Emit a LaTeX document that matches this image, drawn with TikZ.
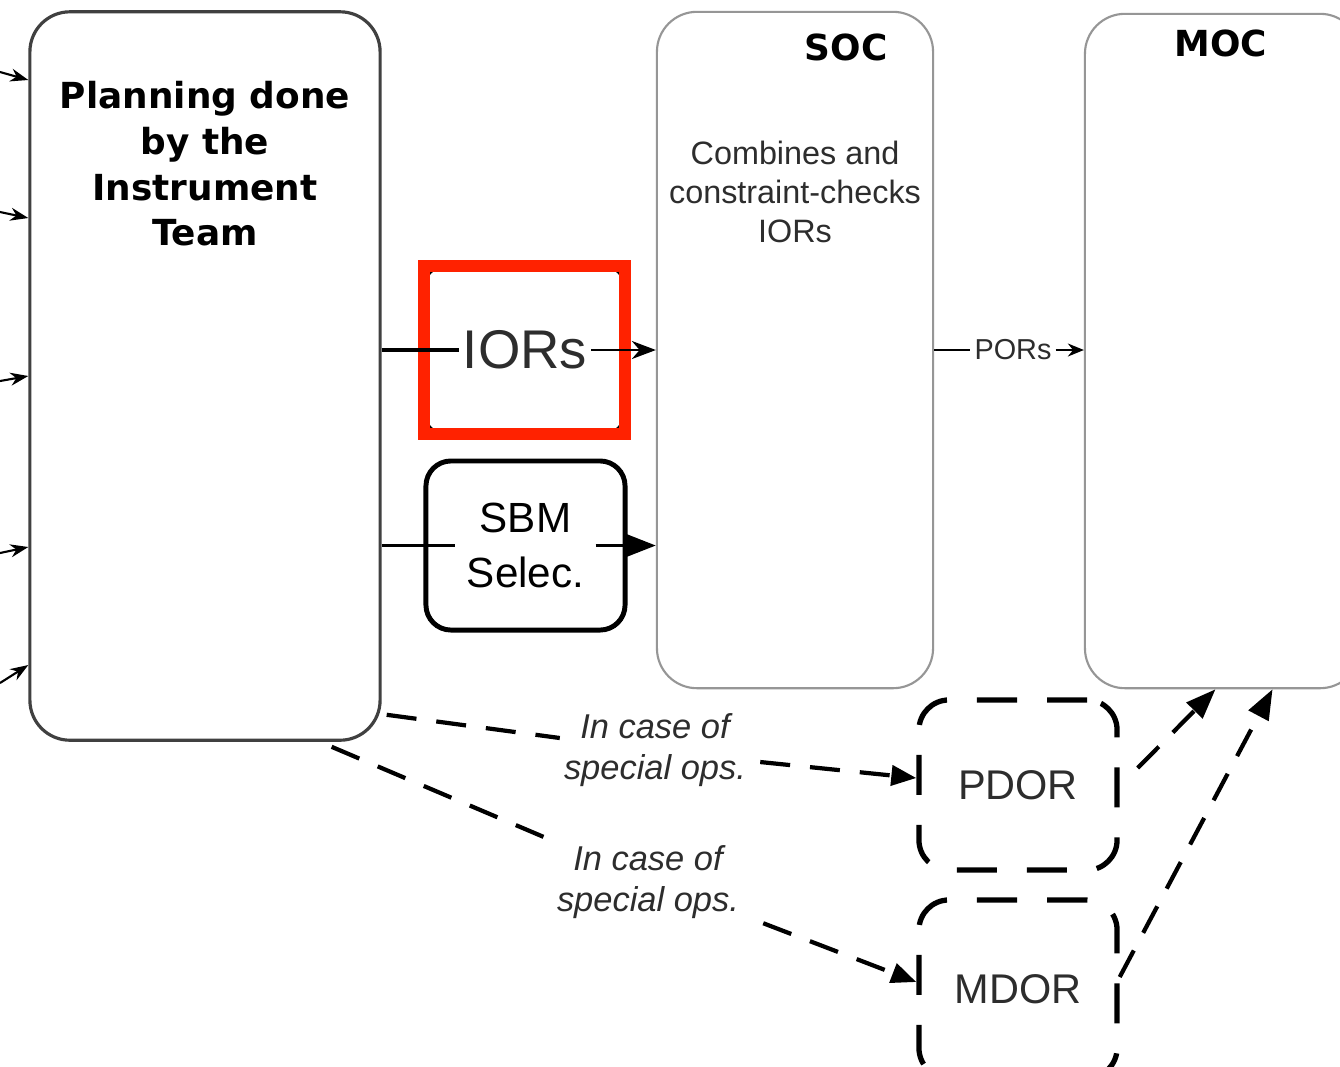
\documentclass[tikz,border=0pt]{standalone}
\usepackage{fontspec}
\setmainfont{Liberation Sans}
\newfontfamily\heavyfont{DejaVu Sans}
\usetikzlibrary{arrows.meta}
\definecolor{markred}{RGB}{255,34,0}
\definecolor{boxgray}{RGB}{150,150,150}
\definecolor{txtgray}{RGB}{45,45,45}

\begin{document}
\begin{tikzpicture}[x=0.01cm,y=-0.01cm,
    tallbox/.style={draw=boxgray,line width=0.6pt,rounded corners=0.4cm,inner sep=0pt},
    title/.style={font=\heavyfont\bfseries\fontsize{10.2}{13}\selectfont,align=center,inner sep=0pt},
    dline/.style={line width=1.2pt,dash pattern=on 0.3cm off 0.2cm},
    dbox/.style={draw,line width=1.5pt,dash pattern=on 0.4cm off 0.3cm,rounded corners=0.3cm,minimum width=1.98cm,font=\fontsize{11.8}{14}\selectfont,text=txtgray},
    special/.style={font=\itshape\fontsize{9.8}{11.9}\selectfont,text=txtgray,align=center,inner sep=1pt}]

\path[use as bounding box,fill=white] (0,0) rectangle (1340,1066);

\node[tallbox,draw=black!75,line width=0.9pt,minimum width=3.5cm,minimum height=7.28cm] (plan) at (205,376) {};
\node[title] (plantxt) at (205,164) {Planning done\\by the\\Instrument\\Team};

\node[tallbox,minimum width=2.76cm,minimum height=6.76cm] (soc) at (795,350) {};
\node[title] (soctitle) at (846,47) {SOC};
\node[align=center,text=txtgray,font=\fontsize{9.2}{11}\selectfont] (socbody) at (795,192) {Combines and\\constraint-checks\\IORs};

\node[tallbox,minimum width=2.75cm,minimum height=6.74cm] (moc) at (1222.5,351) {};
\node[title] (moctitle) at (1221,43) {MOC};

\node[draw,line width=0.6pt,rounded corners=0.15cm,minimum width=1.96cm,minimum height=1.64cm] (iorbox) at (524.5,350) {};
\node[draw=markred,line width=0.12cm,minimum width=2cm,minimum height=1.68cm] (mark) at (524.5,350) {};
\node[inner sep=1pt,text=txtgray,font=\fontsize{15.5}{18}\selectfont] (iors) at (525,350) {IORs};

\node[draw,line width=1.4pt,rounded corners=0.25cm,minimum width=1.99cm,minimum height=1.69cm,align=center,font=\fontsize{12}{15.6}\selectfont] (sbm) at (525.5,545.5) {SBM\\Selec.};

\node[inner sep=1pt,text=txtgray,font=\fontsize{8.2}{10}\selectfont] (pors) at (1013,350) {PORs};

\node[dbox,minimum height=1.7cm] (pdor) at (1018,785) {PDOR};
\node[dbox,minimum height=1.78cm] (mdor) at (1018,989) {MDOR};

\node[special] (sp1) at (655,750) {In case of\\special ops.};
\node[special] (sp2) at (648,882) {In case of\\special ops.};

% inputs coming in from the left
\coordinate (in1) at (0,72);  \coordinate (to1) at (0,80);
\coordinate (in2) at (0,212); \coordinate (to2) at (0,218);
\coordinate (in3) at (0,381); \coordinate (to3) at (0,376);
\coordinate (in4) at (0,553); \coordinate (to4) at (0,547);
\coordinate (in5) at (0,683); \coordinate (to5) at (0,665);
\draw[line width=0.6pt,-{Stealth[length=0.18cm,width=0.13cm]}] (in1) -- (plan.west |- to1);
\draw[line width=0.6pt,-{Stealth[length=0.18cm,width=0.13cm]}] (in2) -- (plan.west |- to2);
\draw[line width=0.6pt,-{Stealth[length=0.18cm,width=0.13cm]}] (in3) -- (plan.west |- to3);
\draw[line width=0.6pt,-{Stealth[length=0.18cm,width=0.13cm]}] (in4) -- (plan.west |- to4);
\draw[line width=0.6pt,-{Stealth[length=0.18cm,width=0.13cm]}] (in5) -- (plan.west |- to5);

\draw[line width=1.1pt] (plan.east |- iors) -- (iors.west);
\draw[line width=0.7pt,-{Stealth[length=0.24cm,width=0.18cm]}] (iors.east) -- (soc.west |- iors);
\draw[line width=1pt] (plan.east |- sbm) -- ([xshift=-0.7cm]sbm.center);
\draw[line width=1pt,-{Triangle[length=0.32cm,width=0.24cm]}] ([xshift=0.7cm]sbm.center) -- (soc.west |- sbm);

\draw[line width=0.5pt] (soc.east |- pors) -- (pors.west);
\draw[line width=0.5pt,-{Stealth[length=0.16cm,width=0.13cm]}] (pors.east) -- (moc.west |- pors);

% special operations
\draw[dline] ([xshift=0.05cm,yshift=0.27cm]plan.south east) -- ([yshift=0.12cm]sp1.west);
\draw[dline,-{Triangle[length=0.25cm,width=0.2cm]}] ([xshift=0.1cm,yshift=-0.12cm]sp1.east) -- ([yshift=0.07cm]pdor.west);
\draw[dline] ([xshift=-0.5cm,yshift=-0.05cm]plan.south east) -- (sp2.north west);
\draw[dline,-{Triangle[length=0.25cm,width=0.2cm]}] ([xshift=0.2cm]sp2.south east) -- ([yshift=0.07cm]mdor.west);
\draw[dline,-{Triangle[length=0.3cm,width=0.22cm]}] ([xshift=0.18cm,yshift=0.17cm]pdor.east) -- ([xshift=-0.07cm]moc.south);
\draw[dline,-{Triangle[length=0.3cm,width=0.22cm]}] ([yshift=0.12cm]mdor.east) -- ([xshift=0.5cm]moc.south);
\end{tikzpicture}
\end{document}
